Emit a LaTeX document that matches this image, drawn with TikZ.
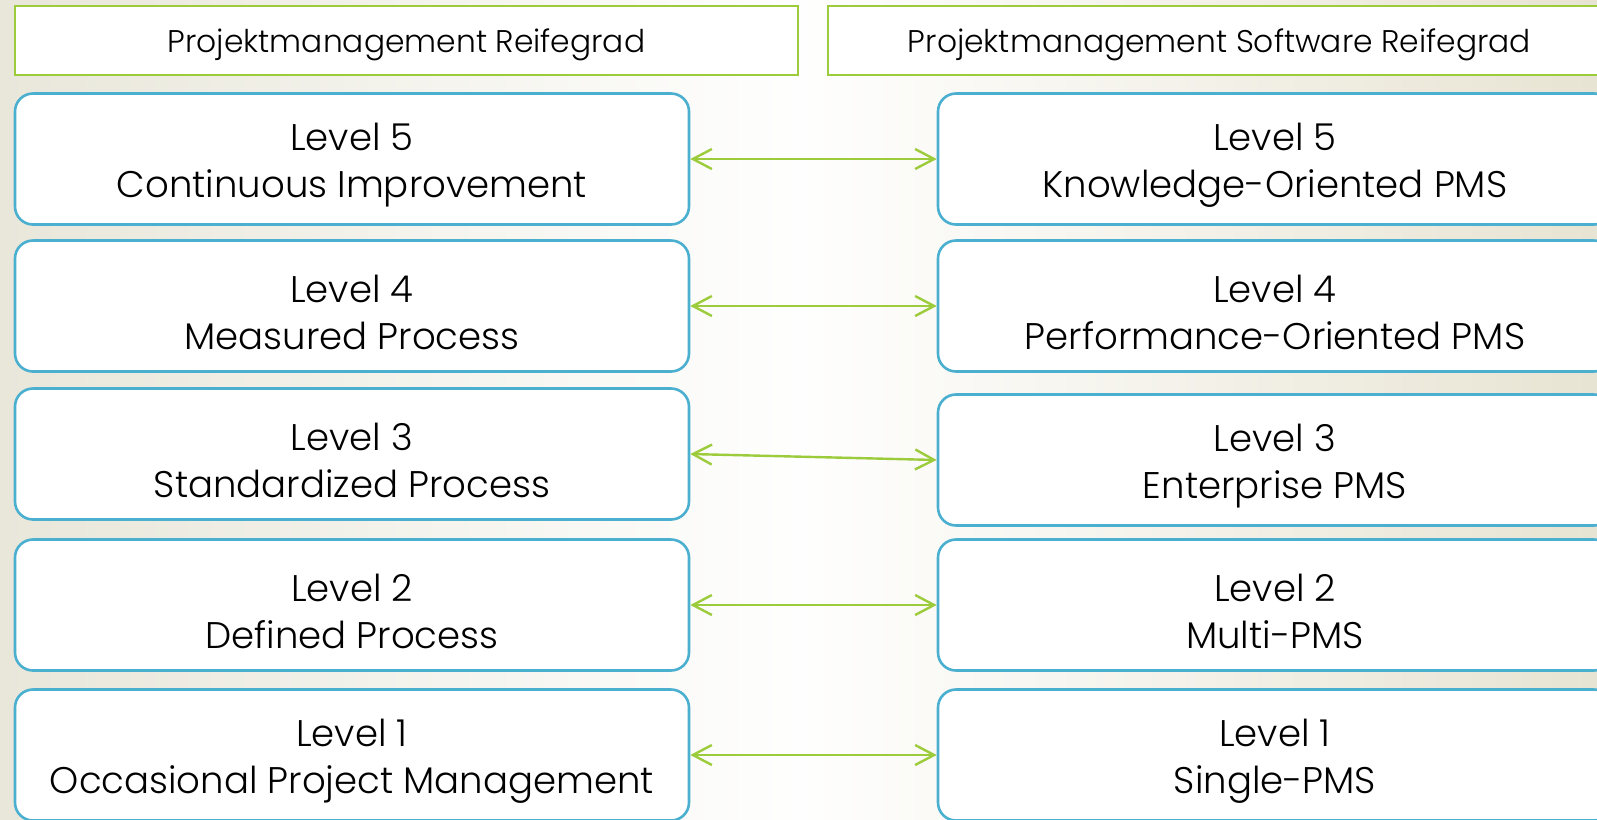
\documentclass[tikz,border=0pt]{standalone}
\usepackage{fontspec}
\setmainfont{Poppins}[UprightFont=* Light]
\usetikzlibrary{arrows.meta}
\definecolor{boxblue}{HTML}{4BAFD0}
\definecolor{hdrgreen}{HTML}{9CCB3B}
\definecolor{bgL}{HTML}{E9E7DA}
\definecolor{bgR}{HTML}{E8E4D3}
\tikzset{
  x=0.75pt, y=-0.75pt,
  lvl/.style={draw=boxblue, line width=2.6*0.75pt, fill=white, rounded corners=18*0.75pt,
    minimum width=674*0.75pt, minimum height=131*0.75pt, inner sep=0pt},
  lvltext/.style={align=center, inner sep=0pt, font=\fontsize{27.8}{35.2}\selectfont},
  hdr/.style={draw=hdrgreen, line width=2.6*0.75pt, fill=white,
    minimum width=783*0.75pt, minimum height=69*0.75pt, inner sep=0pt},
  hdrtext/.style={align=center, inner sep=0pt, font=\fontsize{23.5}{28}\selectfont},
  link/.style={draw=hdrgreen, line width=2.4*0.75pt,
    {Straight Barb[length=19*0.75pt, width=20*0.75pt, line width=2.4*0.75pt]}-{Straight Barb[length=19*0.75pt, width=20*0.75pt, line width=2.4*0.75pt]}}
}
\begin{document}
\begin{tikzpicture}
\useasboundingbox (0,0) rectangle (1597,819);
\clip (0,0) rectangle (1597,819);
\shade[left color=bgL, right color=bgR, middle color=white!97!bgL] (0,0) rectangle (1597,819);
\node[hdr] (h1) at (406.5,40.5) {};
\node[hdr] (h2) at (1219.5,40.5) {};
\node[hdrtext] (h1t) at ([yshift=-3.5pt]h1.center) {Projektmanagement Reifegrad};
\node[hdrtext] (h2t) at ([yshift=-3.5pt]h2.center) {Projektmanagement Software Reifegrad};
\node[lvl] (l5) at (352,159) {};
\node[lvl] (l4) at (352,306) {};
\node[lvl] (l3) at (352,454) {};
\node[lvl] (l2) at (352,605) {};
\node[lvl] (l1) at (352,755) {};
\node[lvl] (r5) at (1275,159) {};
\node[lvl] (r4) at (1275,306) {};
\node[lvl] (r3) at (1275,460) {};
\node[lvl] (r2) at (1275,605) {};
\node[lvl] (r1) at (1275,755) {};
\node[lvltext] (l5t) at ([yshift=-4.5pt]l5.center) {Level 5\\Continuous Improvement};
\node[lvltext] (l4t) at ([yshift=-4.5pt]l4.center) {Level 4\\Measured Process};
\node[lvltext] (l3t) at ([yshift=-4.5pt]l3.center) {Level 3\\Standardized Process};
\node[lvltext] (l2t) at ([yshift=-4.5pt]l2.center) {Level 2\\Defined Process};
\node[lvltext] (l1t) at ([yshift=-4.5pt]l1.center) {Level 1\\Occasional Project Management};
\node[lvltext] (r5t) at ([yshift=-4.5pt]r5.center) {Level 5\\Knowledge-Oriented PMS};
\node[lvltext] (r4t) at ([yshift=-4.5pt]r4.center) {Level 4\\Performance-Oriented PMS};
\node[lvltext] (r3t) at ([yshift=-4.5pt]r3.center) {Level 3\\Enterprise PMS};
\node[lvltext] (r2t) at ([yshift=-4.5pt]r2.center) {Level 2\\Multi-PMS};
\node[lvltext] (r1t) at ([yshift=-4.5pt]r1.center) {Level 1\\Single-PMS};
\draw[link] (l5.east) -- (r5.west);
\draw[link] (l4.east) -- (r4.west);
\draw[link] (l3.east) -- (r3.west);
\draw[link] (l2.east) -- (r2.west);
\draw[link] (l1.east) -- (r1.west);
\end{tikzpicture}
\end{document}
